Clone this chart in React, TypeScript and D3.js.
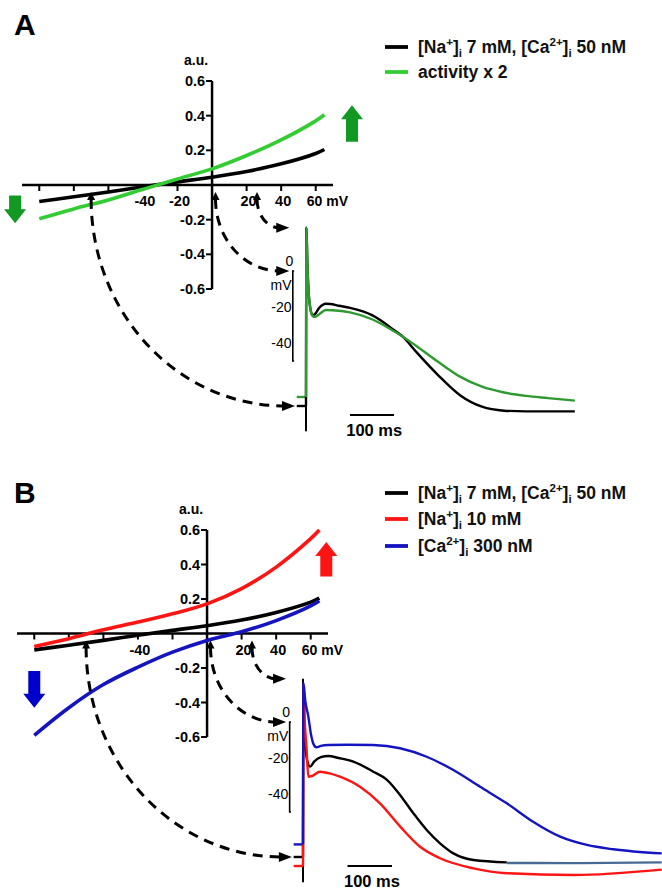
import React from 'react';
import * as d3 from 'd3';

// I-V relationship (voltage in mV, current in a.u.)
const ivVoltage = [-100, -80, -60, -40, -20, 0, 20, 40, 60, 65];
const ivControl = [-0.095, -0.068, -0.04, -0.01, 0.018, 0.045, 0.078, 0.122, 0.182, 0.205];
const ivActivityX2 = [-0.195, -0.138, -0.086, -0.025, 0.035, 0.093, 0.17, 0.26, 0.37, 0.405];
const ivNa10 = [-0.075, -0.03, 0.022, 0.066, 0.114, 0.172, 0.26, 0.385, 0.55, 0.6];
const ivCa300 = [-0.59, -0.43, -0.296, -0.195, -0.108, -0.04, 0.01, 0.075, 0.16, 0.19];

const ivTicksY = [-0.6, -0.4, -0.2, 0.2, 0.4, 0.6];
const ivTicksX = [-100, -80, -60, -40, -20, 20, 40, 60];
const ivLabelsA = [-40, -20, 20, 40];
const ivLabelsB = [-40, 20, 40];

// action potentials (time in ms, membrane potential in mV)
const apA_ctrl_t = [0, 1, 3, 6, 10, 15, 20, 30, 45, 55, 75, 100, 150, 200, 220, 250, 300, 350, 400, 450, 500, 611];
const apA_ctrl_v = [-75, 24, 5, -12, -21, -24.5, -24, -20.5, -18.2, -18.3, -19.3, -20.5, -24.5, -32.8, -36.5, -44.8, -57.8, -69, -75.4, -77.6, -78, -78];
const apA_act_t = [0, 1, 3, 6, 10, 15, 20, 30, 45, 60, 100, 150, 200, 220, 250, 300, 350, 400, 450, 500, 550, 611];
const apA_act_v = [-70, 24, 5, -12, -21, -25, -25.5, -24, -21.7, -21.8, -23, -26.8, -33.5, -36.5, -41.5, -50.4, -58.7, -64.3, -67.5, -69.4, -70.6, -72];

const apB_ctrl_t = [0, 1, 3, 6, 10, 16, 25, 40, 57, 80, 113, 158, 188, 218, 248, 278, 308, 338, 383, 458];
const apB_ctrl_v = [-75, 20, 0, -15, -22, -24.8, -22, -19.5, -18.9, -20, -22, -27.6, -32, -40.5, -50.7, -60, -67.4, -73, -76.7, -78];
const apB_tail_t = [458, 600, 806];
const apB_tail_v = [-78.3, -78.4, -78];
const apB_na_t = [0, 1, 4, 8, 12, 20, 38, 60, 83, 128, 173, 218, 263, 308, 383, 458, 608, 806];
const apB_na_v = [-80, 20.6, 0, -15, -30.4, -30, -27.6, -28.5, -30.4, -36, -45.2, -58, -69.3, -75.7, -81.3, -84, -85, -82];
const apB_ca_t = [0, 1, 5, 12, 18, 23, 30, 40, 57, 100, 157, 218, 278, 338, 398, 458, 517, 578, 638, 697, 806];
const apB_ca_v = [-68, 21.7, 12, 3, -7, -11.9, -14, -13.3, -12.8, -12.6, -12.8, -14.6, -19.3, -26.7, -36, -45.2, -55.4, -63.7, -68.3, -70.7, -73];

const apTicks = [-20, -40];

// dashed links: I-V voltage -> AP potential
const linkIv = [-70, 2, 26];
const linkAp = [-75, 0, 24];

const FONT = 'Liberation Sans, Arial, Helvetica, sans-serif';
const GREEN_IV = '#33cc33';
const GREEN_AP = '#2f9a2f';
const GREEN_ARROW = '#119922';
const RED = '#ff1414';
const BLUE = '#1414c0';
const STEEL = '#4a6a96';

const pairs = (t: number[], v: number[]) => t.map((d, i) => [d, v[i]] as [number, number]);

function Arrow({ x, y0, y1, color }: { x: number; y0: number; y1: number; color: string }) {
  // y0 = tail, y1 = tip
  const dir = y1 > y0 ? 1 : -1;
  const headLen = 14;
  const sw = 6;
  const hw = 11;
  const yb = y1 - dir * headLen;
  const d = `M${x - sw},${y0} L${x + sw},${y0} L${x + sw},${yb} L${x + hw},${yb} L${x},${y1} L${x - hw},${yb} L${x - sw},${yb} Z`;
  return <path d={d} fill={color} />;
}

function IonLabel({ x, y, parts }: { x: number; y: number; parts: [string, string, string][] }) {
  // parts: [ion, charge, rest text]
  const kids: React.ReactNode[] = [];
  parts.forEach(([ion, charge, rest], i) => {
    kids.push(<tspan key={`a${i}`}>{`[${ion}`}</tspan>);
    kids.push(<tspan key={`b${i}`} dy={-7} fontSize={11.5}>{charge}</tspan>);
    kids.push(<tspan key={`c${i}`} dy={7}>]</tspan>);
    kids.push(<tspan key={`d${i}`} dy={4} fontSize={11.5}>i</tspan>);
    kids.push(<tspan key={`e${i}`} dy={-4}>{rest}</tspan>);
  });
  return (
    <text x={x} y={y} fontSize={17.5} fontWeight="bold" fontFamily={FONT} fill="#111">
      {kids}
    </text>
  );
}

function DashLink({ x0, y0, x1, y1 }: { x0: number; y0: number; x1: number; y1: number }) {
  const ex = x1 - 10;
  const rx = ex - x0;
  const ry = y1 - (y0 + 14);
  return (
    <g>
      <path d={`M${x0 - 4},${y0 + 15} L${x0 + 4},${y0 + 15} L${x0},${y0 + 7} Z`} fill="#000" />
      <path
        d={`M${x0},${y0 + 14} A${rx},${ry} 0 0 0 ${ex},${y1}`}
        fill="none"
        stroke="#000"
        strokeWidth={3}
        strokeDasharray="10,7"
      />
      <path d={`M${ex - 3},${y1 - 5} L${x1},${y1} L${ex - 3},${y1 + 5} Z`} fill="#000" />
    </g>
  );
}

function Panel({
  letter, top, ivX, ivY, ivSeries, ivLabels, apT, apV, apSeries, legend, arrows, restMarks,
}: any) {
  const line = d3.line<number>().x((d, i) => ivX(ivVoltage[i])).y(d => ivY(d)).curve(d3.curveCatmullRom);
  const apLine = d3.line<[number, number]>().x(d => apT(d[0])).y(d => apV(d[1])).curve(d3.curveMonotoneX);
  const y0 = ivY(0);
  const x0 = ivX(0);
  const [xMin, xMax] = ivX.range();
  const [yBot, yTop] = ivY.range();
  return (
    <g>
      <text x={14} y={top + 27} fontSize={30} fontWeight="bold" fontFamily={FONT}>{letter}</text>

      {/* I-V axes */}
      <line x1={xMin} x2={xMax} y1={y0} y2={y0} stroke="#000" strokeWidth={2.5} />
      <line x1={x0} x2={x0} y1={yTop} y2={yBot} stroke="#000" strokeWidth={2.5} />
      {ivTicksX.map(v => (
        <line key={v} x1={ivX(v)} x2={ivX(v)} y1={y0} y2={y0 + 6} stroke="#000" strokeWidth={2} />
      ))}
      {ivTicksY.map(v => (
        <g key={v}>
          <line x1={x0 - 6} x2={x0} y1={ivY(v)} y2={ivY(v)} stroke="#000" strokeWidth={2} />
          <text x={x0 - 7} y={ivY(v) + 5} textAnchor="end" fontSize={14.5} fontWeight="bold" fontFamily={FONT}>
            {v.toFixed(1)}
          </text>
        </g>
      ))}
      {ivLabels.map((v: number) => (
        <text key={v} x={ivX(v) + 2} y={y0 + 21} textAnchor="middle" fontSize={14.5} fontWeight="bold" fontFamily={FONT}>
          {v}
        </text>
      ))}
      <text x={ivX(60) - 9} y={y0 + 21} fontSize={14} fontWeight="bold" fontFamily={FONT}>60 mV</text>
      <text x={x0 - 16} y={yTop - 16} textAnchor="middle" fontSize={14} fontWeight="bold" fontFamily={FONT}>a.u.</text>

      {ivSeries.map((s: any, i: number) => (
        <path key={i} d={line(s.values) || ''} fill="none" stroke={s.color} strokeWidth={3.6} />
      ))}

      {arrows.map((a: any, i: number) => (
        <Arrow key={i} x={ivX(a.v)} y0={ivY(a.from)} y1={ivY(a.to)} color={a.color} />
      ))}

      {/* dashed links */}
      {linkIv.map((v, i) => (
        <DashLink
          key={v}
          x0={ivX(v)}
          y0={y0}
          x1={apT(i === 0 ? -25 : -38)}
          y1={apV(linkAp[i])}
        />
      ))}

      {/* AP inset */}
      <line x1={apT(0)} x2={apT(0)} y1={apV(24)} y2={apV(-89)} stroke="#000" strokeWidth={2} />
      {restMarks.map((r: any, i: number) => (
        <line key={i} x1={apT(-21)} x2={apT(0)} y1={apV(r.v)} y2={apV(r.v)} stroke={r.color} strokeWidth={2.4} />
      ))}
      {apSeries.map((s: any, i: number) => (
        <path key={i} d={apLine(s.values) || ''} fill="none" stroke={s.color} strokeWidth={2.4} />
      ))}
      {/* mV scale bracket */}
      <path
        d={`M${apT(-27)},${apV(0)} L${apT(-30)},${apV(0)} L${apT(-30)},${apV(-50)} L${apT(-27)},${apV(-50)}`}
        fill="none"
        stroke="#000"
        strokeWidth={1.6}
      />
      {apTicks.map(v => (
        <line key={v} x1={apT(-32)} x2={apT(-30)} y1={apV(v)} y2={apV(v)} stroke="#000" strokeWidth={1.6} />
      ))}
      <text x={apT(-38)} y={apV(0) - 5} textAnchor="middle" fontSize={14} fontFamily={FONT}>0</text>
      <text x={apT(-33)} y={apV(-10.5)} textAnchor="end" fontSize={14} fontFamily={FONT}>mV</text>
      {apTicks.map(v => (
        <text key={v} x={apT(-33)} y={apV(v) + 5} textAnchor="end" fontSize={14} fontFamily={FONT}>{v}</text>
      ))}
      <line x1={apT(100)} x2={apT(200)} y1={apV(-80)} y2={apV(-80)} stroke="#000" strokeWidth={1.8} />
      <text x={apT(155)} y={apV(-80) + 21} textAnchor="middle" fontSize={16.5} fontWeight="bold" fontFamily={FONT}>100 ms</text>

      {/* legend */}
      {legend.map((l: any, i: number) => (
        <g key={i}>
          <line x1={385} x2={408} y1={l.y} y2={l.y} stroke={l.color} strokeWidth={3.8} />
          {l.parts ? (
            <IonLabel x={418} y={l.y + 6} parts={l.parts} />
          ) : (
            <text x={418} y={l.y + 6} fontSize={17.5} fontWeight="bold" fontFamily={FONT} fill="#111">{l.text}</text>
          )}
        </g>
      ))}
    </g>
  );
}

export default function App() {
  const ivXA = d3.scaleLinear().domain([-110, 70]).range([22, 333]);
  const ivYA = d3.scaleLinear().domain([-0.6, 0.6]).range([289, 81]);
  const apTA = d3.scaleLinear().domain([0, 100]).range([306, 350]);
  const apVA = d3.scaleLinear().domain([0, -50]).range([271, 361]);

  const ivXB = d3.scaleLinear().domain([-110, 70]).range([17, 328]);
  const ivYB = d3.scaleLinear().domain([-0.6, 0.6]).range([737, 530]);
  const apTB = d3.scaleLinear().domain([0, 100]).range([303, 347.5]);
  const apVB = d3.scaleLinear().domain([0, -50]).range([722, 812]);

  const ctrlParts: [string, string, string][] = [['Na', '+', ' 7 mM, '], ['Ca', '2+', ' 50 nM']];

  return (
    <svg width={662} height={890} style={{ position: 'absolute', left: 0, top: 0, background: '#fff' }}>
      <Panel
        letter="A"
        top={8}
        ivX={ivXA}
        ivY={ivYA}
        ivLabels={ivLabelsA}
        ivSeries={[
          { values: ivControl, color: '#000' },
          { values: ivActivityX2, color: GREEN_IV },
        ]}
        apT={apTA}
        apV={apVA}
        apSeries={[
          { values: pairs(apA_ctrl_t, apA_ctrl_v), color: '#000' },
          { values: pairs(apA_act_t, apA_act_v), color: GREEN_AP },
        ]}
        restMarks={[
          { v: apA_act_v[0], color: GREEN_AP },
          { v: apA_ctrl_v[0], color: '#000' },
        ]}
        arrows={[
          { v: 81, from: 0.25, to: 0.46, color: GREEN_ARROW },
          { v: -114, from: -0.06, to: -0.22, color: GREEN_ARROW },
        ]}
        legend={[
          { y: 47, color: '#000', parts: ctrlParts },
          { y: 72, color: GREEN_IV, text: 'activity x 2' },
        ]}
      />
      <Panel
        letter="B"
        top={476}
        ivX={ivXB}
        ivY={ivYB}
        ivLabels={ivLabelsB}
        ivSeries={[
          { values: ivControl, color: '#000' },
          { values: ivNa10, color: RED },
          { values: ivCa300, color: BLUE },
        ]}
        apT={apTB}
        apV={apVB}
        apSeries={[
          { values: pairs(apB_ctrl_t, apB_ctrl_v), color: '#000' },
          { values: pairs(apB_tail_t, apB_tail_v), color: STEEL },
          { values: pairs(apB_na_t, apB_na_v), color: RED },
          { values: pairs(apB_ca_t, apB_ca_v), color: BLUE },
        ]}
        restMarks={[
          { v: apB_ca_v[0], color: BLUE },
          { v: apB_ctrl_v[0], color: '#000' },
          { v: apB_na_v[0], color: RED },
        ]}
        arrows={[
          { v: 69, from: 0.33, to: 0.53, color: RED },
          { v: -100, from: -0.217, to: -0.43, color: '#0000cc' },
        ]}
        legend={[
          { y: 493, color: '#000', parts: ctrlParts },
          { y: 519, color: RED, parts: [['Na', '+', ' 10 mM']] },
          { y: 546, color: BLUE, parts: [['Ca', '2+', ' 300 nM']] },
        ]}
      />
    </svg>
  );
}
